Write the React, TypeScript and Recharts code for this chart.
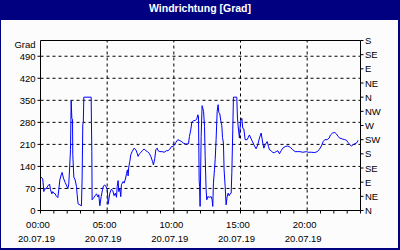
import React from 'react';
import { LineChart, Line, XAxis, YAxis, ReferenceLine } from 'recharts';

const title = 'Windrichtung [Grad]';
const unitLabel = 'Grad';
const dateLabel = '20.07.19';

const hours = [
  0.05, 0.17, 0.25, 0.3, 0.4, 0.55, 0.68, 0.75, 0.85, 0.92,
  1.0, 1.1, 1.17, 1.3, 1.37, 1.45, 1.55, 1.62, 1.72, 1.85,
  1.97, 2.05, 2.12, 2.18, 2.25, 2.3, 2.35, 2.4, 2.42, 2.5,
  2.6, 2.7, 2.75, 2.82, 2.95, 3.07, 3.12, 3.17, 3.21, 3.25,
  3.8, 3.82, 3.85, 3.87, 4.0, 4.1, 4.2, 4.3, 4.37, 4.45,
  4.55, 4.65, 4.72, 4.82, 4.92, 5.01, 5.07, 5.2, 5.32, 5.42,
  5.52, 5.61, 5.7, 5.75, 5.82, 5.87, 5.95, 6.02, 6.07, 6.2,
  6.27, 6.37, 6.45, 6.52, 6.57, 6.62, 6.7, 6.77, 6.87, 7.02,
  7.15, 7.25, 7.32, 7.4, 7.52, 7.65, 7.77, 7.9, 8.02, 8.15,
  8.27, 8.4, 8.47, 8.57, 8.65, 8.75, 8.82, 8.95, 9.12, 9.27,
  9.45, 9.57, 9.7, 9.82, 9.95, 10.05, 10.15, 10.3, 10.4, 10.55,
  10.72, 10.9, 11.1, 11.17, 11.27, 11.35, 11.47, 11.6, 11.72, 11.8,
  11.85, 11.9, 11.93, 11.97, 12.05, 12.12, 12.17, 12.23, 12.3, 12.35,
  12.42, 12.47, 12.55, 12.67, 12.8, 12.87, 12.92, 12.97, 13.05, 13.1,
  13.17, 13.25, 13.32, 13.37, 13.45, 13.52, 13.6, 13.65, 13.72, 13.77,
  13.85, 13.92, 14.0, 14.07, 14.15, 14.22, 14.3, 14.35, 14.42, 14.47,
  14.72, 14.77, 14.82, 14.92, 15.0, 15.1, 15.17, 15.25, 15.35, 15.5,
  15.67, 15.85, 16.05, 16.17, 16.3, 16.42, 16.55, 16.67, 16.75, 16.85,
  17.0, 17.1, 17.17, 17.3, 17.42, 17.55, 17.67, 17.8, 17.92, 18.05,
  18.17, 18.35, 18.55, 18.72, 18.92, 19.1, 19.3, 19.45, 19.67, 19.95,
  20.07, 20.32, 20.57, 20.75, 20.9, 21.07, 21.2, 21.32, 21.5, 21.65,
  21.75, 21.9, 22.07, 22.2, 22.32, 22.45, 22.65, 22.82, 22.95, 23.07,
  23.2, 23.32, 23.45, 23.57, 23.7, 23.82,
];

const degrees = [
  106, 100, 60, 70, 68, 78, 84, 66, 53, 60,
  55, 53, 47, 41, 66, 97, 113, 121, 103, 89,
  78, 69, 84, 132, 193, 349, 293, 290, 177, 106,
  97, 76, 50, 21, 18, 15, 97, 272, 280, 360,
  360, 280, 187, 34, 41, 47, 53, 43, 50, 15,
  44, 66, 78, 81, 75, 66, 20, 55, 68, 63,
  47, 55, 42, 76, 95, 60, 70, 44, 82, 92,
  87, 100, 117, 129, 110, 138, 156, 177, 187, 198,
  193, 182, 172, 179, 184, 191, 195, 190, 187, 182,
  172, 156, 145, 165, 193, 198, 190, 187, 187, 185,
  190, 190, 195, 203, 203, 209, 216, 225, 223, 220,
  214, 211, 212, 235, 256, 280, 285, 286, 290, 304,
  297, 97, 76, 13, 235, 333, 325, 315, 267, 172,
  66, 34, 44, 42, 44, 34, 13, 87, 131, 161,
  225, 315, 336, 312, 307, 285, 269, 232, 214, 129,
  76, 18, 44, 55, 47, 53, 55, 120, 256, 360,
  360, 297, 269, 230, 283, 293, 261, 259, 225, 225,
  240, 223, 205, 196, 209, 230, 246, 214, 198, 209,
  219, 203, 193, 190, 184, 184, 187, 190, 180, 190,
  198, 203, 205, 201, 193, 187, 187, 187, 185, 187,
  185, 185, 184, 187, 193, 205, 219, 225, 225, 230,
  240, 246, 248, 243, 235, 230, 227, 225, 223, 216,
  209, 205, 209, 212, 214, 223,
];

const gradTicks = [0, 70, 140, 210, 280, 350, 420, 490];
const gradMax = 540;
const compassTicks = [0, 45, 90, 135, 180, 225, 270, 315, 360, 405, 450, 495, 540];
const compassLabels = ['N', 'NE', 'E', 'SE', 'S', 'SW', 'W', 'NW', 'N', 'NE', 'E', 'SE', 'S'];
const hourTicks = [0, 1, 2, 3, 4, 5, 6, 7, 8, 9, 10, 11, 12, 13, 14, 15, 16, 17, 18, 19, 20, 21, 22, 23, 24];
const labelHours = [0, 5, 10, 15, 20];
const timeLabels = ['00:00', '05:00', '10:00', '15:00', '20:00'];
const gridHours = [5, 10, 15, 20];

const data = hours.map((h, i) => ({ h, deg: degrees[i] }));

const FONT = '"Liberation Sans", Arial, sans-serif';
const NAVY = '#000080';

const LeftTick = (props: any) => {
  const { x, y, payload } = props;
  if (payload.value === gradMax) {
    return (
      <text x={x - 5} y={y + 4} textAnchor="end" dominantBaseline="central" fontSize={9.5} fontFamily={FONT} fill="#000">
        {unitLabel}
      </text>
    );
  }
  return (
    <g>
      <line x1={x - 3} x2={x} y1={y} y2={y} stroke="#000" />
      <text x={x - 5} y={y} textAnchor="end" dominantBaseline="central" fontSize={9.5} fontFamily={FONT} fill="#000">
        {payload.value}
      </text>
    </g>
  );
};

const RightTick = (props: any) => {
  const { x, y, payload, index } = props;
  const idx = compassTicks.indexOf(payload.value);
  return (
    <g>
      <line x1={x} x2={x + 3} y1={y} y2={y} stroke="#000" />
      <text x={x + 4.5} y={y} textAnchor="start" dominantBaseline="central" fontSize={9.5} fontFamily={FONT} fill="#000">
        {compassLabels[idx >= 0 ? idx : index]}
      </text>
    </g>
  );
};

const BottomTick = (props: any) => {
  const { x, y, payload } = props;
  const idx = labelHours.indexOf(payload.value);
  return (
    <g>
      <line x1={x} x2={x} y1={y} y2={y + 3} stroke="#000" />
      {idx >= 0 && (
        <text x={x - 2.5} y={y + 13.5} textAnchor="middle" dominantBaseline="central" fontSize={9.5} fontFamily={FONT} fill="#000">
          {timeLabels[idx]}
        </text>
      )}
      {idx >= 0 && (
        <text x={x - 4} y={y + 27.5} textAnchor="middle" dominantBaseline="central" fontSize={9.5} fontFamily={FONT} fill="#000">
          {dateLabel}
        </text>
      )}
    </g>
  );
};

export default function App() {
  return (
    <div style={{ position: 'absolute', left: 0, top: 0, width: 400, height: 250, background: '#fcfcfc', overflow: 'hidden' }}>
      <div
        style={{
          position: 'absolute', left: 0, top: 0, width: 400, height: 250, boxSizing: 'border-box',
          borderLeft: `1px solid ${NAVY}`, borderRight: `2px solid ${NAVY}`, borderBottom: `2px solid ${NAVY}`,
        }}
      />
      <div
        style={{
          position: 'absolute', left: 0, top: 0, width: 400, height: 20, background: NAVY, color: '#fff',
          fontFamily: FONT, fontWeight: 'bold', fontSize: 10.5, lineHeight: '17px', textAlign: 'center',
        }}
      >
        {title}
      </div>
      <div style={{ position: 'absolute', left: 0, top: 0 }}>
        <LineChart width={400} height={250} data={data} margin={{ top: 40.5, right: 0, bottom: 0, left: 0.5 }}>
          <XAxis
            dataKey="h" type="number" domain={[0, 24]} ticks={hourTicks} interval={0}
            axisLine={{ stroke: '#000' }} tickLine={false} tickSize={0} tickMargin={0}
            height={39.5} tick={<BottomTick />}
          />
          <YAxis
            yAxisId="left" orientation="left" type="number" domain={[0, gradMax]}
            ticks={[...gradTicks, gradMax]} interval={0} width={40}
            axisLine={{ stroke: '#000' }} tickLine={false} tickSize={0} tickMargin={0}
            tick={<LeftTick />}
          />
          <YAxis
            yAxisId="right" orientation="right" type="number" domain={[0, gradMax]}
            ticks={compassTicks} interval={0} width={39.5} allowDataOverflow
            axisLine={{ stroke: '#000' }} tickLine={false} tickSize={0} tickMargin={0}
            tick={<RightTick />}
          />
          {gradTicks.slice(1).map((v) => (
            <ReferenceLine key={'h' + v} yAxisId="left" y={v} stroke="#000" strokeDasharray="3 3" />
          ))}
          {gridHours.map((v) => (
            <ReferenceLine key={'v' + v} yAxisId="left" x={v} stroke="#000" strokeDasharray="3 3" />
          ))}
          <ReferenceLine yAxisId="right" y={gradMax} stroke="#000" ifOverflow="extendDomain" />
          <Line
            yAxisId="left" type="linear" dataKey="deg" stroke="#0000ff" strokeWidth={1}
            dot={false} isAnimationActive={false}
          />
        </LineChart>
      </div>
    </div>
  );
}
